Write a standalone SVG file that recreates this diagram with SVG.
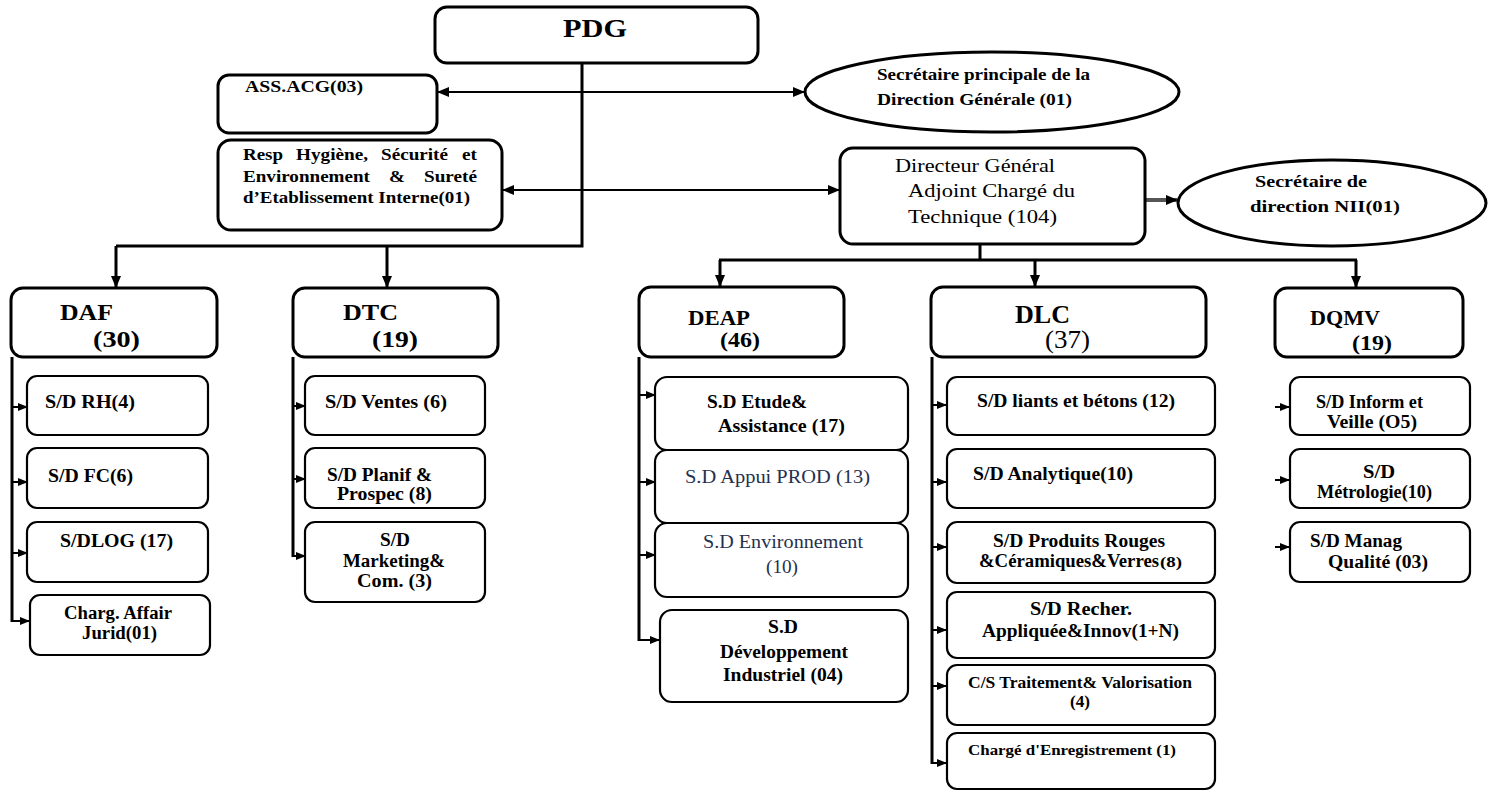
<svg xmlns="http://www.w3.org/2000/svg" width="1489" height="791" viewBox="0 0 1489 791">
<style>
.box{fill:#fff;stroke:#000;stroke-width:3}
.sub{fill:#fff;stroke:#000;stroke-width:2.2}
.t{font-family:"Liberation Serif","Tinos","Times New Roman",Times,serif;font-weight:bold;fill:#000;font-size:18px}
.r{font-weight:normal}
.n{fill:#263050}
.big{font-size:24px}
.m{font-size:16px}
.w{font-size:17px}
.c{stroke:#000;stroke-width:3;fill:none}
.h{stroke:#000;stroke-width:2;fill:none}
</style>
<defs>
<marker id="a" markerUnits="userSpaceOnUse" markerWidth="12" markerHeight="10" refX="11" refY="5" orient="auto-start-reverse"><path d="M0,0 L12,5 L0,10 z" fill="#000"/></marker>
<marker id="s" markerUnits="userSpaceOnUse" markerWidth="10" markerHeight="8" refX="9" refY="4" orient="auto"><path d="M0,0 L10,4 L0,8 z" fill="#000"/></marker>
</defs>
<rect width="1489" height="791" fill="#fff"/>
<g id="connectors">
<path class="c" d="M582,63 V246 H116"/>
<path class="c" d="M116,246 V287" marker-end="url(#a)"/>
<path class="c" d="M387,246 V287" marker-end="url(#a)"/>
<path class="h" d="M438,92 H804" marker-start="url(#a)" marker-end="url(#a)"/>
<path class="h" d="M503,190 H839" marker-start="url(#a)" marker-end="url(#a)"/>
<path d="M1146,200 H1177" stroke="#555" stroke-width="4" fill="none" marker-end="url(#a)"/>
<path class="c" d="M980,244 V260 M719,260 H1357"/>
<path class="c" d="M720,260 V286" marker-end="url(#a)"/>
<path class="c" d="M1035,260 V286" marker-end="url(#a)"/>
<path class="c" d="M1356,260 V287" marker-end="url(#a)"/>
<path class="c" d="M12,357 V622"/>
<path class="h" d="M12,407 H27" marker-end="url(#s)"/>
<path class="h" d="M12,482 H27" marker-end="url(#s)"/>
<path class="h" d="M12,553 H27" marker-end="url(#s)"/>
<path class="h" d="M12,621 H29" marker-end="url(#s)"/>
<path class="c" d="M293,357 V557"/>
<path class="h" d="M293,406 H305" marker-end="url(#s)"/>
<path class="h" d="M293,479 H305" marker-end="url(#s)"/>
<path class="h" d="M293,556 H305" marker-end="url(#s)"/>
<path class="c" d="M639,357 V641"/>
<path class="h" d="M639,395 H655" marker-end="url(#s)"/>
<path class="h" d="M639,482 H655" marker-end="url(#s)"/>
<path class="h" d="M639,555 H655" marker-end="url(#s)"/>
<path class="h" d="M639,640 H659" marker-end="url(#s)"/>
<path class="c" d="M932,357 V764"/>
<path class="h" d="M932,405 H946" marker-end="url(#s)"/>
<path class="h" d="M932,482 H946" marker-end="url(#s)"/>
<path class="h" d="M932,547 H946" marker-end="url(#s)"/>
<path class="h" d="M932,630 H946" marker-end="url(#s)"/>
<path class="h" d="M932,686 H946" marker-end="url(#s)"/>
<path class="h" d="M932,763 H946" marker-end="url(#s)"/>
<path class="h" d="M1275,407 H1289" marker-end="url(#s)"/>
<path class="h" d="M1275,480 H1289" marker-end="url(#s)"/>
<path class="h" d="M1275,547 H1289" marker-end="url(#s)"/>
</g>
<g id="pdg"><rect class="box" x="435" y="7" width="323" height="56" rx="12"/>
<text class="t" x="563" y="37" style="font-size:26px" textLength="64" lengthAdjust="spacingAndGlyphs">PDG</text></g>
<g id="ass"><rect class="box" x="218" y="75" width="219" height="58" rx="11"/>
<text class="t m" x="245" y="92" textLength="118" lengthAdjust="spacingAndGlyphs">ASS.ACG(03)</text></g>
<g id="sec1"><ellipse class="box" cx="992" cy="92" rx="187" ry="40"/>
<text class="t m" x="877" y="80" textLength="213" lengthAdjust="spacingAndGlyphs">Secrétaire principale de la</text>
<text class="t m" x="877" y="105" textLength="195" lengthAdjust="spacingAndGlyphs">Direction Générale (01)</text></g>
<g id="resp"><rect class="box" x="218" y="140" width="284" height="90" rx="13"/>
<text class="t w" x="243" y="160" textLength="40" lengthAdjust="spacingAndGlyphs">Resp</text>
<text class="t w" x="296" y="160" textLength="72" lengthAdjust="spacingAndGlyphs">Hygiène,</text>
<text class="t w" x="381" y="160" textLength="67" lengthAdjust="spacingAndGlyphs">Sécurité</text>
<text class="t w" x="462" y="160" textLength="15" lengthAdjust="spacingAndGlyphs">et</text>
<text class="t w" x="243" y="182" textLength="127" lengthAdjust="spacingAndGlyphs">Environnement</text>
<text class="t w" x="389" y="182" textLength="16" lengthAdjust="spacingAndGlyphs">&amp;</text>
<text class="t w" x="424" y="182" textLength="53" lengthAdjust="spacingAndGlyphs">Sureté</text>
<text class="t w" x="243" y="203" textLength="227" lengthAdjust="spacingAndGlyphs">d’Etablissement Interne(01)</text></g>
<g id="dga"><rect class="box" x="840" y="148" width="305" height="96" rx="13"/>
<text class="t r" x="895" y="172" style="font-size:19px" textLength="160" lengthAdjust="spacingAndGlyphs">Directeur Général</text>
<text class="t r" x="908" y="197" style="font-size:19px" textLength="167" lengthAdjust="spacingAndGlyphs">Adjoint Chargé du</text>
<text class="t r" x="908" y="223" style="font-size:19px" textLength="149" lengthAdjust="spacingAndGlyphs">Technique (104)</text></g>
<g id="sec2"><ellipse class="box" cx="1332" cy="203" rx="154" ry="43"/>
<text class="t m" x="1255" y="187" textLength="112" lengthAdjust="spacingAndGlyphs">Secrétaire de</text>
<text class="t m" x="1250" y="212" textLength="150" lengthAdjust="spacingAndGlyphs">direction NII(01)</text></g>
<g id="daf"><rect class="box" x="11" y="288" width="206" height="69" rx="12"/>
<text class="t big" x="60" y="320" textLength="53" lengthAdjust="spacingAndGlyphs">DAF</text>
<text class="t big" x="93" y="347" textLength="47" lengthAdjust="spacingAndGlyphs">(30)</text></g>
<g id="daf-rh"><rect class="sub" x="27" y="376" width="181" height="59" rx="10"/>
<text class="t" x="45" y="408" textLength="90" lengthAdjust="spacingAndGlyphs">S/D RH(4)</text></g>
<g id="daf-fc"><rect class="sub" x="27" y="448" width="181" height="60" rx="10"/>
<text class="t" x="48" y="482" textLength="85" lengthAdjust="spacingAndGlyphs">S/D FC(6)</text></g>
<g id="daf-log"><rect class="sub" x="27" y="522" width="181" height="60" rx="10"/>
<text class="t" x="60" y="547" textLength="113" lengthAdjust="spacingAndGlyphs">S/DLOG (17)</text></g>
<g id="daf-jur"><rect class="sub" x="30" y="595" width="180" height="60" rx="10"/>
<text class="t" x="64" y="619" textLength="108" lengthAdjust="spacingAndGlyphs">Charg. Affair</text>
<text class="t" x="82" y="639" textLength="75" lengthAdjust="spacingAndGlyphs">Jurid(01)</text></g>
<g id="dtc"><rect class="box" x="293" y="288" width="205" height="69" rx="12"/>
<text class="t big" x="343" y="320" textLength="55" lengthAdjust="spacingAndGlyphs">DTC</text>
<text class="t big" x="372" y="347" textLength="46" lengthAdjust="spacingAndGlyphs">(19)</text></g>
<g id="dtc-ventes"><rect class="sub" x="305" y="376" width="180" height="59" rx="10"/>
<text class="t" x="325" y="408" textLength="122" lengthAdjust="spacingAndGlyphs">S/D Ventes (6)</text></g>
<g id="dtc-planif"><rect class="sub" x="305" y="448" width="180" height="60" rx="10"/>
<text class="t" x="327" y="481" textLength="105" lengthAdjust="spacingAndGlyphs">S/D Planif &amp;</text>
<text class="t" x="337" y="500" textLength="95" lengthAdjust="spacingAndGlyphs">Prospec (8)</text></g>
<g id="dtc-mkt"><rect class="sub" x="305" y="522" width="180" height="80" rx="10"/>
<text class="t" x="380" y="546" textLength="30" lengthAdjust="spacingAndGlyphs">S/D</text>
<text class="t" x="343" y="567" textLength="102" lengthAdjust="spacingAndGlyphs">Marketing&amp;</text>
<text class="t" x="357" y="587" textLength="75" lengthAdjust="spacingAndGlyphs">Com. (3)</text></g>
<g id="deap"><rect class="box" x="639" y="287" width="205" height="70" rx="12"/>
<text class="t" x="688" y="325" style="font-size:22px" textLength="62" lengthAdjust="spacingAndGlyphs">DEAP</text>
<text class="t" x="720" y="347" style="font-size:22px" textLength="40" lengthAdjust="spacingAndGlyphs">(46)</text></g>
<g id="deap-etude"><rect class="sub" x="655" y="377" width="253" height="73" rx="12"/>
<text class="t" x="707" y="408" textLength="100" lengthAdjust="spacingAndGlyphs">S.D Etude&amp;</text>
<text class="t" x="718" y="432" textLength="127" lengthAdjust="spacingAndGlyphs">Assistance (17)</text></g>
<g id="deap-appui"><rect class="sub" x="655" y="450" width="253" height="73" rx="12"/>
<text class="t r n" x="685" y="483" style="font-size:19px" textLength="185" lengthAdjust="spacingAndGlyphs">S.D Appui PROD (13)</text></g>
<g id="deap-env"><rect class="sub" x="655" y="523" width="253" height="74" rx="12"/>
<text class="t r n" x="703" y="548" style="font-size:19px" textLength="160" lengthAdjust="spacingAndGlyphs">S.D Environnement</text>
<text class="t r n" x="766" y="573" style="font-size:19px" textLength="32" lengthAdjust="spacingAndGlyphs">(10)</text></g>
<g id="deap-dev"><rect class="sub" x="660" y="610" width="248" height="92" rx="12"/>
<text class="t" x="768" y="633" textLength="30" lengthAdjust="spacingAndGlyphs">S.D</text>
<text class="t" x="720" y="658" textLength="128" lengthAdjust="spacingAndGlyphs">Développement</text>
<text class="t" x="723" y="681" textLength="120" lengthAdjust="spacingAndGlyphs">Industriel (04)</text></g>
<g id="dlc"><rect class="box" x="931" y="287" width="275" height="70" rx="12"/>
<text class="t" x="1015" y="323" style="font-size:25px" textLength="55" lengthAdjust="spacingAndGlyphs">DLC</text>
<text class="t r" x="1045" y="348" style="font-size:25px" textLength="45" lengthAdjust="spacingAndGlyphs">(37)</text></g>
<g id="dlc-liants"><rect class="sub" x="947" y="377" width="268" height="58" rx="10"/>
<text class="t" x="977" y="407" textLength="198" lengthAdjust="spacingAndGlyphs">S/D liants et bétons (12)</text></g>
<g id="dlc-analytique"><rect class="sub" x="947" y="449" width="268" height="59" rx="10"/>
<text class="t" x="973" y="480" textLength="160" lengthAdjust="spacingAndGlyphs">S/D Analytique(10)</text></g>
<g id="dlc-produits"><rect class="sub" x="947" y="522" width="268" height="61" rx="10"/>
<text class="t" x="993" y="547" textLength="172" lengthAdjust="spacingAndGlyphs">S/D Produits Rouges</text>
<text class="t" x="979" y="567" textLength="180" lengthAdjust="spacingAndGlyphs">&amp;Céramiques&amp;Verres</text>
<text class="t" x="1160" y="567" style="font-size:14px" textLength="22" lengthAdjust="spacingAndGlyphs">(8)</text></g>
<g id="dlc-recher"><rect class="sub" x="947" y="592" width="268" height="66" rx="10"/>
<text class="t" x="1030" y="615" textLength="102" lengthAdjust="spacingAndGlyphs">S/D Recher.</text>
<text class="t" x="982" y="637" textLength="197" lengthAdjust="spacingAndGlyphs">Appliquée&amp;Innov(1+N)</text></g>
<g id="dlc-cs"><rect class="sub" x="947" y="665" width="268" height="60" rx="10"/>
<text class="t m" x="968" y="688" textLength="224" lengthAdjust="spacingAndGlyphs">C/S Traitement&amp; Valorisation</text>
<text class="t m" x="1070" y="707" textLength="20" lengthAdjust="spacingAndGlyphs">(4)</text></g>
<g id="dlc-chg"><rect class="sub" x="947" y="733" width="268" height="56" rx="10"/>
<text class="t" x="968" y="755" style="font-size:15px" textLength="208" lengthAdjust="spacingAndGlyphs">Chargé d'Enregistrement (1)</text></g>
<g id="dqmv"><rect class="box" x="1275" y="288" width="188" height="69" rx="12"/>
<text class="t" x="1310" y="325" style="font-size:22px" textLength="70" lengthAdjust="spacingAndGlyphs">DQMV</text>
<text class="t" x="1352" y="350" style="font-size:22px" textLength="40" lengthAdjust="spacingAndGlyphs">(19)</text></g>
<g id="dqmv-inform"><rect class="sub" x="1290" y="377" width="180" height="58" rx="10"/>
<text class="t" x="1316" y="408" textLength="107" lengthAdjust="spacingAndGlyphs">S/D Inform et</text>
<text class="t" x="1327" y="428" textLength="90" lengthAdjust="spacingAndGlyphs">Veille (O5)</text></g>
<g id="dqmv-metro"><rect class="sub" x="1290" y="449" width="180" height="59" rx="10"/>
<text class="t" x="1363" y="478" textLength="32" lengthAdjust="spacingAndGlyphs">S/D</text>
<text class="t" x="1317" y="498" textLength="115" lengthAdjust="spacingAndGlyphs">Métrologie(10)</text></g>
<g id="dqmv-qualite"><rect class="sub" x="1290" y="522" width="180" height="60" rx="10"/>
<text class="t" x="1310" y="547" textLength="92" lengthAdjust="spacingAndGlyphs">S/D Manag</text>
<text class="t" x="1328" y="568" textLength="100" lengthAdjust="spacingAndGlyphs">Qualité (03)</text></g>
</svg>
